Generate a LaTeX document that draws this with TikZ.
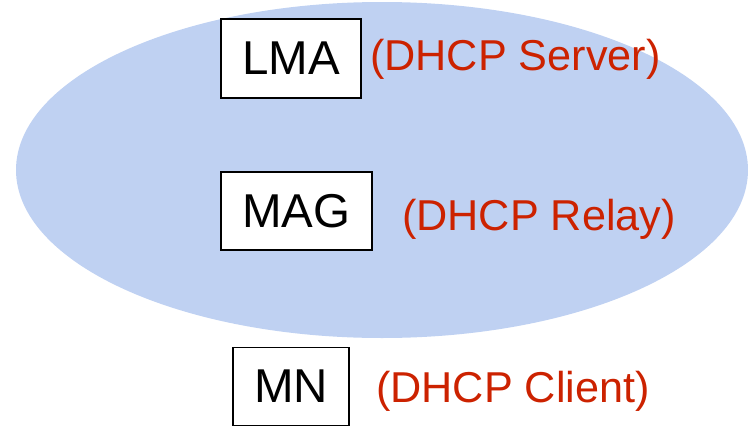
\documentclass[tikz,border=0pt]{standalone}
\usepackage{fontspec}
\setmainfont{Liberation Sans}
\definecolor{cloudblue}{HTML}{BFD1F2}
\definecolor{rolered}{HTML}{CC2200}
\tikzset{
  entity/.style={draw=black, fill=white, line width=1.6pt, inner sep=0pt,
    font=\fontsize{47.5}{52}\selectfont},
  role/.style={text=rolered, anchor=base west, inner sep=0pt,
    font=\fontsize{43.2}{50}\selectfont}
}
\begin{document}
\begin{tikzpicture}[x=1pt,y=-1pt]
\useasboundingbox (0,0) rectangle (748,426);
\fill[cloudblue] (382,170) ellipse [x radius=366, y radius=168];
\node[entity, minimum width=140pt, minimum height=79pt] (lma) at (291,58.5) {LMA};
\node[entity, minimum width=151pt, minimum height=78pt] (mag) at (296.5,211) {MAG};
\node[entity, minimum width=116pt, minimum height=78pt, line width=1.3pt] (mn) at (291,386.5) {MN};
\node[role] (server) at (370,70) {(DHCP Server)};
\node[role] (relay) at (402,230) {(DHCP Relay)};
\node[role] (client) at (376,402) {(DHCP Client)};
\end{tikzpicture}
\end{document}
